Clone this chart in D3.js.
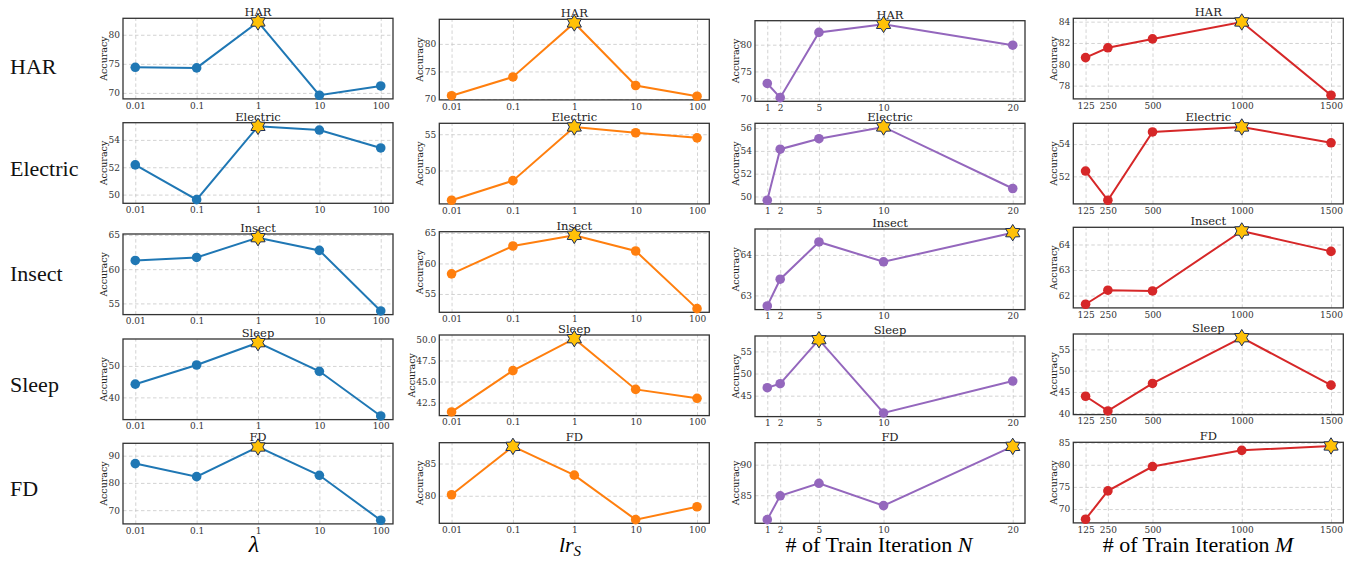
<!DOCTYPE html>
<html>
<head>
<meta charset="utf-8">
<script src="https://cdn.jsdelivr.net/npm/d3@7"></script>
<style>
  body { margin: 0; background: #fff; }
  svg { display: block; }
</style>
</head>
<body>
<svg width="1357" height="562"></svg>
<script>
// Datasets (rows)
const datasets = ['HAR', 'Electric', 'Insect', 'Sleep', 'FD'];

// x values per column
const lambdaX = [0.01, 0.1, 1, 10, 100];
const lrX = [0.01, 0.1, 1, 10, 100];
const iterN = [1, 2, 5, 10, 20];
const iterM = [125, 250, 500, 1000, 1500];

// Accuracy per dataset (rows: HAR, Electric, Insect, Sleep, FD)
const lambdaAcc = [
  [74.4, 74.3, 82.2, 69.6, 71.2],
  [52.17, 49.63, 54.99, 54.72, 53.41],
  [61.27, 61.71, 64.6, 62.74, 53.9],
  [44.2, 50.3, 57.4, 48.3, 34.1],
  [87.1, 82.3, 93.2, 82.8, 66.3]
];
const lrAcc = [
  [70.6, 74.0, 83.8, 72.45, 70.5],
  [45.9, 48.6, 56.0, 55.2, 54.5],
  [58.3, 62.86, 64.6, 62.04, 52.6],
  [41.38, 46.3, 50.1, 44.06, 43.0],
  [80.16, 87.66, 83.2, 76.3, 78.3]
];
const iterNAcc = [
  [72.75, 70.1, 82.3, 83.8, 79.9],
  [49.67, 54.15, 55.07, 56.1, 50.7],
  [62.74, 63.4, 64.32, 63.83, 64.55],
  [46.8, 47.7, 57.65, 41.1, 48.3],
  [81.0, 84.9, 86.95, 83.3, 93.0]
];
const iterMAcc = [
  [80.63, 81.55, 82.38, 83.97, 77.1],
  [52.33, 50.52, 54.75, 55.06, 54.08],
  [61.66, 62.21, 62.18, 64.53, 63.73],
  [44.0, 40.55, 47.0, 57.75, 46.6],
  [67.7, 74.1, 79.6, 83.26, 84.25]
];

// y tick labels per panel
const lambdaTicks = [[70, 75, 80], [50, 52, 54], [55, 60, 65], [40, 50], [70, 80, 90]];
const lrTicks = [[70, 75, 80], [50, 55], [55, 60, 65], [42.5, 45, 47.5, 50], [80, 85]];
const iterNTicks = [[70, 75, 80], [50, 52, 54, 56], [63, 64], [45, 50, 55], [85, 90]];
const iterMTicks = [[78, 80, 82, 84], [52, 54], [62, 63, 64], [40, 45, 50, 55], [70, 75, 80, 85]];

const colors = ['#1f77b4', '#ff7f0e', '#9467bd', '#d62728'];

const columns = [
  { x: lambdaX, acc: lambdaAcc, ticks: lambdaTicks, log: true },
  { x: lrX, acc: lrAcc, ticks: lrTicks, log: true },
  { x: iterN, acc: iterNAcc, ticks: iterNTicks, log: false },
  { x: iterM, acc: iterMAcc, ticks: iterMTicks, log: false }
];

// Layout
const colLeft = [123, 439.3, 755, 1073.3];
const colTops = [
  [18.3, 122.7, 234, 339, 443.3],
  [19.3, 123.3, 231.7, 335, 442.7],
  [20.7, 123.3, 229, 336, 442.7],
  [18.3, 123.3, 227.3, 334, 442.3]
];
const panelW = 270;
const panelH = 80.6;
const rowLabelBase = [74, 176, 281, 392, 495.7];
const serif = '"DejaVu Serif", serif';
const times = '"Liberation Serif", "Times New Roman", serif';

const svg = d3.select('svg');

// six pointed star path
function starPath(R, r) {
  const pts = d3.range(12).map((i) => {
    const a = -Math.PI / 2 + i * Math.PI / 6;
    const rad = i % 2 === 0 ? R : r;
    return [rad * Math.cos(a), rad * Math.sin(a)];
  });
  return 'M' + pts.map((p) => p[0].toFixed(2) + ',' + p[1].toFixed(2)).join('L') + 'Z';
}

columns.forEach((col, c) => {
  col.acc.forEach((vals, r) => {
    drawPanel(col, c, vals, r);
  });
});

function drawPanel(col, c, vals, r) {
  const left = colLeft[c];
  const top = colTops[c][r];
  const g = svg.append('g').attr('transform', 'translate(' + left + ',' + top + ')');

  let x;
  if (col.log) {
    const lo = d3.min(col.x), hi = d3.max(col.x);
    const k = Math.pow(10, 0.05 * Math.log10(hi / lo));
    x = d3.scaleLog().domain([lo / k, hi * k]).range([0, panelW]);
  } else {
    const lo = d3.min(col.x), hi = d3.max(col.x);
    const p = (hi - lo) * 0.05;
    x = d3.scaleLinear().domain([lo - p, hi + p]).range([0, panelW]);
  }
  const ylo = d3.min(vals), yhi = d3.max(vals);
  const yp = (yhi - ylo) * 0.05;
  const y = d3.scaleLinear().domain([ylo - yp, yhi + yp]).range([panelH, 0]);

  g.append('rect')
    .attr('width', panelW)
    .attr('height', panelH)
    .attr('fill', '#fff');

  const ticks = col.ticks[r];
  const dec = ticks.some((t) => t % 1 !== 0) ? 1 : 0;

  // x axis + vertical grid
  const ax = g.append('g')
    .attr('class', 'axis axis-x')
    .attr('transform', 'translate(0,' + panelH + ')')
    .call(d3.axisBottom(x).tickValues(col.x).tickSize(-panelH).tickPadding(3.5).tickFormat((d) => String(d)));

  // y axis + horizontal grid
  const ay = g.append('g')
    .attr('class', 'axis axis-y')
    .call(d3.axisLeft(y).tickValues(ticks).tickSize(-panelW).tickPadding(3).tickFormat((d) => d.toFixed(dec)));

  [ax, ay].forEach((a) => {
    a.select('.domain').remove();
    a.selectAll('line')
      .attr('stroke', '#c8c8c8')
      .attr('stroke-width', 0.8)
      .attr('stroke-dasharray', '3.5,2.5');
    a.selectAll('text')
      .attr('fill', '#333')
      .style('font-family', serif)
      .style('font-size', '9px');
  });

  // frame
  g.append('rect')
    .attr('width', panelW)
    .attr('height', panelH)
    .attr('fill', 'none')
    .attr('stroke', '#333')
    .attr('stroke-width', 1.3);

  // y label placed left of widest tick label
  let maxW = 0;
  ay.selectAll('text').each(function () {
    maxW = Math.max(maxW, this.getComputedTextLength());
  });
  g.append('text')
    .attr('transform', 'translate(' + (-3 - maxW - 5) + ',' + panelH / 2 + ') rotate(-90)')
    .attr('text-anchor', 'middle')
    .attr('dy', '0.35em')
    .attr('fill', '#222')
    .style('font-family', serif)
    .style('font-size', '9.5px')
    .text('Accuracy');

  // title
  g.append('text')
    .attr('x', panelW / 2)
    .attr('y', -2)
    .attr('text-anchor', 'middle')
    .attr('fill', '#222')
    .style('font-family', serif)
    .style('font-size', '11.5px')
    .text(datasets[r]);

  const pts = col.x.map((v, i) => ({ x: v, y: vals[i] }));
  const best = d3.maxIndex(vals);

  g.append('path')
    .datum(pts)
    .attr('fill', 'none')
    .attr('stroke', colors[c])
    .attr('stroke-width', 2)
    .attr('d', d3.line().x((d) => x(d.x)).y((d) => y(d.y)));

  g.selectAll('.dot')
    .data(pts.filter((d, i) => i !== best))
    .enter()
    .append('circle')
    .attr('class', 'dot')
    .attr('cx', (d) => x(d.x))
    .attr('cy', (d) => y(d.y))
    .attr('r', 4.8)
    .attr('fill', colors[c]);

  g.append('path')
    .attr('transform', 'translate(' + x(pts[best].x) + ',' + y(pts[best].y) + ')')
    .attr('d', starPath(8.2, 4.9))
    .attr('fill', '#FFC107')
    .attr('stroke', '#1c2c55')
    .attr('stroke-width', 1);
}

// Row labels
svg.selectAll('.row-label')
  .data(datasets)
  .enter()
  .append('text')
  .attr('class', 'row-label')
  .attr('x', 10)
  .attr('y', (d, i) => rowLabelBase[i])
  .style('font-family', times)
  .style('font-size', '22px')
  .attr('fill', '#111')
  .text((d) => d);

// Bottom x labels
const labelY = 552;
svg.append('text')
  .attr('x', 254).attr('y', labelY)
  .attr('text-anchor', 'middle')
  .style('font-family', times).style('font-size', '24px').style('font-style', 'italic')
  .text('λ');

const lr = svg.append('text')
  .attr('x', 570).attr('y', labelY)
  .attr('text-anchor', 'middle')
  .style('font-family', times).style('font-size', '22px').style('font-style', 'italic');
lr.append('tspan').text('lr');
lr.append('tspan').attr('dy', 4).style('font-size', '15px').text('S');

['N', 'M'].forEach((v, i) => {
  const t = svg.append('text')
    .attr('x', [879, 1198][i]).attr('y', labelY)
    .attr('text-anchor', 'middle')
    .style('font-family', times).style('font-size', '22px');
  t.append('tspan').text('# of Train Iteration ');
  t.append('tspan').style('font-style', 'italic').text(v);
});
</script>
</body>
</html>
